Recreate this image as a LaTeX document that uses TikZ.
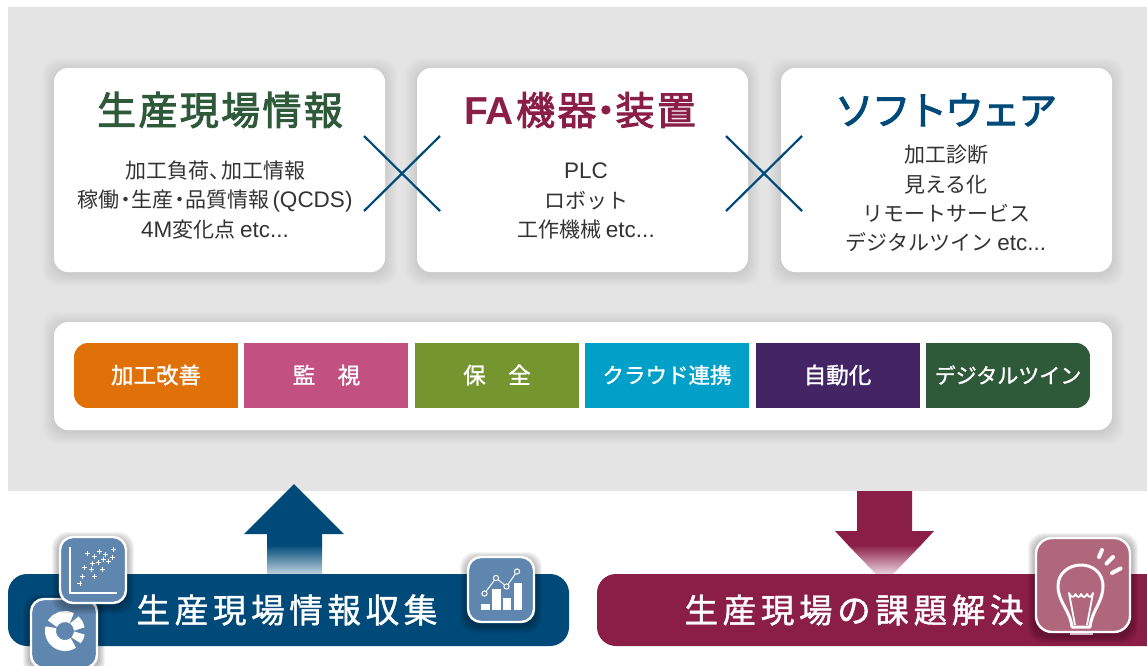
\documentclass[tikz,border=0pt]{standalone}
\usepackage{fontspec}
\setmainfont{Liberation Sans}
\newfontfamily\cjk{Noto Sans CJK JP}
\newfontfamily\cjkc[FakeBold=1.3]{Noto Sans CJK JP}
\newfontfamily\cjkt[LetterSpace=6,FakeBold=2.4]{Noto Sans CJK JP}
\newfontfamily\cjkk[LetterSpace=-6,FakeBold=2.4]{Noto Sans CJK JP}
\newfontfamily\cjkb[LetterSpace=14,FakeBold=1.3]{Noto Sans CJK JP}
\usetikzlibrary{shadings}
\definecolor{bgray}{HTML}{E4E4E4}
\definecolor{navy}{HTML}{004A7A}
\definecolor{wine}{HTML}{8B1E46}
\definecolor{forest}{HTML}{2F5A3A}
\definecolor{iconblue}{HTML}{5F86AE}
\definecolor{iconwine}{HTML}{B0677C}
\definecolor{bodytxt}{HTML}{333333}
\definecolor{cOrange}{HTML}{E07008}
\definecolor{cPink}{HTML}{C25080}
\definecolor{cGreen}{HTML}{75962F}
\definecolor{cCyan}{HTML}{00A0C8}
\definecolor{cPurple}{HTML}{432565}
\newcommand{\softshadow}[5]{%
  \foreach \i in {1,...,#5}{%
    \fill[black,opacity=0.009,rounded corners=16]
      ({#1-\i},{#2-\i+2}) rectangle ({#3+\i},{#4+\i+2});}}
\newcommand{\iconshadow}[4]{%
  \foreach \i in {1,...,7}{%
    \fill[black,opacity=0.045,rounded corners=15]
      ({#1-\i},{#2-\i+3}) rectangle ({#3+\i},{#4+\i+3});}}
\newcommand{\lt}[1]{{\fontsize{22.5}{29.2}\selectfont\rmfamily #1}}
\newcommand{\nd}{\kern-4.5pt・\kern-4.5pt}
\tikzset{
  card/.style={fill=white,rounded corners=14},
  titletxt/.style={font=\fontsize{39}{44}\selectfont,anchor=center},
  bodytext/.style={font=\fontsize{21}{29.2}\selectfont\cjk,text=bodytxt,align=center,anchor=center},
  celltxt/.style={font=\fontsize{22.5}{26}\selectfont\cjkc,text=white,anchor=center},
  bandtxt/.style={font=\fontsize{33.5}{38}\selectfont\cjkb,text=white,anchor=center},
  crossline/.style={draw=navy,line width=2.2},
  iconbox/.style={draw=white,line width=2.4,rounded corners=13},
  iconline/.style={draw=white,line width=1.6},
}
\begin{document}
\begin{tikzpicture}[x=1pt,y=-1pt]
\useasboundingbox (0,0) rectangle (1147,665);
\clip (0,0) rectangle (1147,665);
\fill[white] (0,0) rectangle (1147,665);
\fill[bgray] (8,7) rectangle (1147,491);
% cards
\softshadow{54}{68}{385}{272}{12}
\softshadow{417}{68}{748}{272}{12}
\softshadow{781}{68}{1112}{272}{12}
\softshadow{54}{322}{1112}{430}{12}
\fill[card] (54,68) rectangle (385,272);
\fill[card] (417,68) rectangle (748,272);
\fill[card] (781,68) rectangle (1112,272);
\fill[card] (54,322) rectangle (1112,430);
% titles
\node[titletxt,text=forest] (t1) at (220,110) {\cjkt 生産現場情報};
\node[titletxt,text=wine] (t2) at (580,110) {\textbf{FA}\kern2pt{\cjkt 機器\kern-10pt ・\kern-10pt 装置}};
\node[titletxt,text=navy] (t3) at (946,110) {\cjkk ソフトウェア};
% bodies
\node[bodytext] (b1) at (215,200) {加工負荷、\kern-9pt 加工情報\\稼働\nd 生産\nd 品質情報\kern3pt\lt{(QCDS)}\\\lt{4M}変化点 \lt{etc...}};
\node[bodytext] (b2) at (586,201) {\lt{PLC}\\ロボット\\工作機械 \lt{etc...}};
\node[bodytext] (b3) at (946,198.5) {加工診断\\見える化\\リモートサービス\\デジタルツイン \lt{etc...}};
% crosses
\coordinate (xa1) at (364,136); \coordinate (xa2) at (440,211);
\coordinate (xa3) at (364,211); \coordinate (xa4) at (440,136);
\coordinate (xb1) at (726,136); \coordinate (xb2) at (802,211);
\coordinate (xb3) at (726,211); \coordinate (xb4) at (802,136);
\draw[crossline] (xa1) -- (xa2); \draw[crossline] (xa3) -- (xa4);
\draw[crossline] (xb1) -- (xb2); \draw[crossline] (xb3) -- (xb4);
% cells
\begin{scope}
\clip[rounded corners=14] (74,343) rectangle (1090,408);
\fill[cOrange] (74,343) rectangle (238,408);
\fill[cPink] (244,343) rectangle (408,408);
\fill[cGreen] (415,343) rectangle (579,408);
\fill[cCyan] (585,343) rectangle (749,408);
\fill[cPurple] (756,343) rectangle (920,408);
\fill[forest] (926,343) rectangle (1090,408);
\end{scope}
\node[celltxt] (c1) at (156,375) {加工改善};
\node[celltxt] (c2) at (326.5,375) {監　視};
\node[celltxt] (c3) at (497,375) {保　全};
\node[celltxt,font=\fontsize{21.5}{26}\selectfont\cjkc] (c4) at (667,375) {クラウド連携};
\node[celltxt] (c5) at (837.5,375) {自動化};
\node[celltxt,font=\fontsize{21}{26}\selectfont\cjkc] (c6) at (1008,375) {デジタルツイン};
% up arrow
\fill[navy] (294,484) -- (344,534) -- (322,534) -- (322,546) -- (267,546) -- (267,534) -- (244,534) -- cycle;
\shade[top color=navy,bottom color=navy!25] (267,545) rectangle (322,574);
% down arrow
\fill[wine] (857,491) -- (912,491) -- (912,531) -- (934,531) -- (921,545) -- (848,545) -- (835,531) -- (857,531) -- cycle;
\begin{scope}
\clip (848,545) -- (921,545) -- (884.5,583) -- cycle;
\shade[top color=wine,bottom color=wine!20] (840,545) rectangle (930,574);
\end{scope}
% bands
\fill[navy,rounded corners=19] (8,574) rectangle (569,646);
\fill[wine,rounded corners=19] (597,574) rectangle (1180,646);
\node[bandtxt] (l) at (287,610) {生産現場情報収集};
\node[bandtxt] (r) at (854,610) {生産現場の課題解決};
% icon: bars
\iconshadow{467}{556}{535}{623}
\draw[iconbox,fill=iconblue] (468,557) rectangle (534,622);
\fill[white] (481,604) rectangle (490,610);
\fill[white] (492,589) rectangle (500.5,610);
\fill[white] (502.5,597.5) rectangle (510.5,610);
\fill[white] (513.5,583) rectangle (521.5,610);
\coordinate (p1) at (484.5,593.5);
\coordinate (p2) at (496,578);
\coordinate (p3) at (506.5,586.5);
\coordinate (p4) at (517,571.5);
\draw[iconline,line width=1] (p1) -- (p2) -- (p3) -- (p4);
\foreach \p in {p1,p2,p3,p4}{\draw[iconline,line width=1,fill=iconblue] (\p) circle (2.6);}
% icon: donut
\iconshadow{30}{598}{98}{668}
\draw[iconbox,fill=iconblue] (31,599) rectangle (97,668);
\begin{scope}[shift={(65,631)},y=1pt]
\draw[white,line width=11] (165:14.5) arc[start angle=165,end angle=305,radius=14.5];
\draw[white,line width=11] (62:14.5) arc[start angle=62,end angle=150,radius=14.5];
\draw[white,line width=11] (8:14.5) arc[start angle=8,end angle=50,radius=14.5];
\draw[white,line width=11] (-40:14.5) arc[start angle=-40,end angle=-8,radius=14.5];
\end{scope}
% icon: scatter
\iconshadow{59}{536}{127}{604}
\draw[iconbox,fill=iconblue] (60,537) rectangle (126,603);
\draw[iconline] (70,547) -- (70,593) -- (116.5,593);
\foreach \x/\y in {237/220,255/228,270/215,285/224,307/207,304/231,293/243,280/237,265/246,250/251,229/262,247/267,277/268,223/288,256/288,216/310}{
  \draw[white,line width=0.8] ({\x/2.703-2.5},{480+\y/3}) -- ({\x/2.703+2.5},{480+\y/3});
  \draw[white,line width=0.8] ({\x/2.703},{480+\y/3-2.5}) -- ({\x/2.703},{480+\y/3+2.5});
}
% icon: bulb
\iconshadow{1035}{537}{1131}{633}
\draw[white,line width=2,opacity=.7] (1070,633.5) -- (1093,633.5);
\draw[iconbox,fill=iconwine,rounded corners=16] (1036,538) rectangle (1130,632);
\draw[white,line width=3,line join=round] (1072,627) .. controls (1070,610) and (1058,602) .. (1058,586) .. controls (1058,573) and (1069,565) .. (1081,565) .. controls (1093,565) and (1103,573) .. (1103,586) .. controls (1103,602) and (1092,610) .. (1090,627) -- cycle;
\draw[white,line width=1.8,line join=round] (1075,625) -- (1069,593) .. controls (1071,598) and (1074,598) .. (1075.5,594) .. controls (1077,598) and (1080,598) .. (1081,594) .. controls (1083,598) and (1085,598) .. (1087,594) .. controls (1089,598) and (1091,598) .. (1093,593) -- (1087,625);
\draw[white,line width=4,line cap=round] (1102,550) -- (1099,557);
\draw[white,line width=4,line cap=round] (1113,557) -- (1106.5,563.5);
\draw[white,line width=4,line cap=round] (1120.5,568.5) -- (1112,573);
\end{tikzpicture}
\end{document}
